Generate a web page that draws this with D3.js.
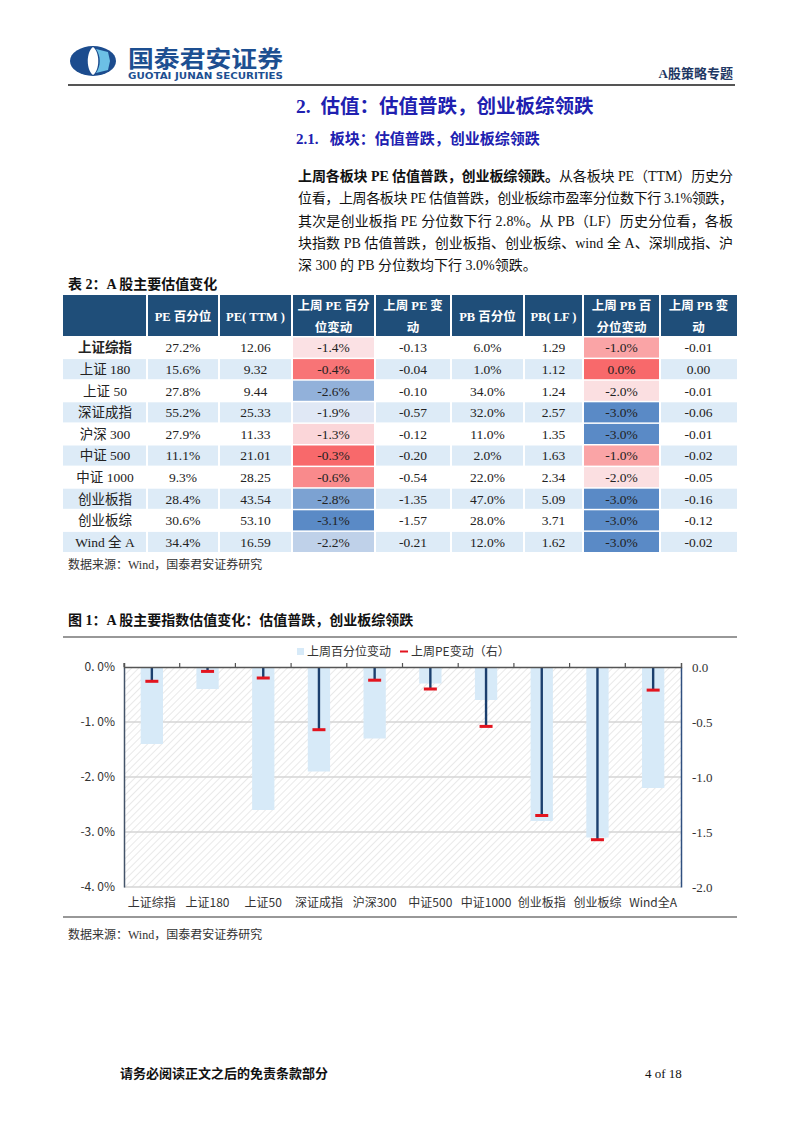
<!DOCTYPE html>
<html><head><meta charset="utf-8">
<script src="https://cdn.jsdelivr.net/npm/d3@7"></script>
<style>
body{margin:0;background:#fff;}
svg{display:block;}
text{white-space:pre;}
</style></head>
<body><svg id="page" width="802" height="1133"></svg>
<script>
// ---------------- DATA ----------------
const categories = ["上证综指","上证180","上证50","深证成指","沪深300","中证500","中证1000","创业板指","创业板综","Wind全A"];
const rowLabels = ["上证综指","上证 180","上证 50","深证成指","沪深 300","中证 500","中证 1000","创业板指","创业板综","Wind 全 A"];
const pePct    = [27.2,15.6,27.8,55.2,27.9,11.1,9.3,28.4,30.6,34.4];
const peTTM    = [12.06,9.32,9.44,25.33,11.33,21.01,28.25,43.54,53.10,16.59];
const pePctChg = [-1.4,-0.4,-2.6,-1.9,-1.3,-0.3,-0.6,-2.8,-3.1,-2.2];
const peChg    = [-0.13,-0.04,-0.10,-0.57,-0.12,-0.20,-0.54,-1.35,-1.57,-0.21];
const pbPct    = [6.0,1.0,34.0,32.0,11.0,2.0,22.0,47.0,28.0,12.0];
const pbLF     = [1.29,1.12,1.24,2.57,1.35,1.63,2.34,5.09,3.71,1.62];
const pbPctChg = [-1.0,0.0,-2.0,-3.0,-3.0,-1.0,-2.0,-3.0,-3.0,-3.0];
const pbChg    = [-0.01,0.00,-0.01,-0.06,-0.01,-0.02,-0.05,-0.16,-0.12,-0.02];
const tableHeaders = [[""],["PE 百分位"],["PE( TTM )"],["上周 PE 百分","位变动"],["上周 PE 变","动"],["PB 百分位"],["PB( LF )"],["上周 PB 百","分位变动"],["上周 PB 变","动"]];
const leftTicks = [0,-1,-2,-3,-4];
const leftTickLabels = ["0. 0%","-1. 0%","-2. 0%","-3. 0%","-4. 0%"];
const rightTicks = [0,-0.5,-1.0,-1.5,-2.0];
const rightTickLabels = ["0.0","-0.5","-1.0","-1.5","-2.0"];
const legendLabels = ["上周百分位变动","上周PE变动（右）"];

// ---------------- PAGE ----------------
const svg = d3.select("#page");
const SERIF = "'Liberation Serif','Times New Roman','Noto Sans CJK SC',serif";
const SANS = "'Noto Sans CJK SC','Noto Sans',sans-serif";
const loc = d3.formatLocale({decimal:".",thousands:",",grouping:[3],currency:["",""],minus:"-"});

// logo
const logo = svg.append("g");
logo.append("ellipse").attr("cx",93).attr("cy",61).attr("rx",23).attr("ry",15).attr("fill","#1c4c8e");
logo.append("path").attr("d","M93,47 C86,52 86,70 93,75 C100,70 100,52 93,47 Z").attr("fill","#fff");
logo.append("path").attr("d","M96,49 L108,52 L110,61 L108,70 L96,73 C101,66 101,56 96,49 Z").attr("fill","#6cc0e5");
svg.append("text").attr("x",128).attr("y",67).attr("font-family",SANS).attr("font-weight","bold")
  .attr("font-size",23).attr("fill","#1d4f91").attr("textLength",155).attr("lengthAdjust","spacingAndGlyphs").text("国泰君安证券");
svg.append("text").attr("x",128).attr("y",79).attr("font-family","'DejaVu Sans',sans-serif").attr("font-weight","bold")
  .attr("font-size",8).attr("fill","#1d4f91").attr("textLength",155).attr("lengthAdjust","spacingAndGlyphs").text("GUOTAI JUNAN SECURITIES");
svg.append("line").attr("x1",68).attr("x2",735).attr("y1",85).attr("y2",85).attr("stroke","#555").attr("stroke-width",2);
svg.append("text").attr("x",733).attr("y",78).attr("text-anchor","end").attr("font-family",SERIF).attr("font-weight","bold")
  .attr("font-size",13).attr("fill","#1f3864").text("A股策略专题");

// titles
svg.append("text").attr("x",296).attr("y",113).attr("font-family",SERIF).attr("font-weight","bold")
  .attr("font-size",19.5).attr("fill","#2020b0").text("2.\u00a0\u00a0估值：估值普跌，创业板综领跌");
svg.append("text").attr("x",296).attr("y",144).attr("font-family",SERIF).attr("font-weight","bold")
  .attr("font-size",15).attr("fill","#2020b0").text("2.1.\u00a0\u00a0\u00a0板块：估值普跌，创业板综领跌");

// paragraph
const para = [
  [["上周各板块 PE 估值普跌，创业板综领跌。", true],["从各板块 PE（TTM）历史分", false]],
  [["位看，上周各板块 PE 估值普跌，创业板综市盈率分位数下行 3.1%领跌，", false]],
  [["其次是创业板指 PE 分位数下行 2.8%。从 PB（LF）历史分位看，各板", false]],
  [["块指数 PB 估值普跌，创业板指、创业板综、wind 全 A、深圳成指、沪", false]],
  [["深 300 的 PB 分位数均下行 3.0%领跌。", false]]
];
para.forEach((ln,i)=>{
  const t = svg.append("text").attr("x",298).attr("y",181+i*22.3).attr("font-family",SERIF)
    .attr("font-size",14).attr("fill","#111");
  if(i<4) t.attr("textLength",435).attr("lengthAdjust","spacing");
  ln.forEach(([s,b])=>t.append("tspan").attr("font-weight",b?"bold":"normal").text(s));
});

// table title
svg.append("text").attr("x",68).attr("y",289).attr("font-family",SERIF).attr("font-weight","bold")
  .attr("font-size",14).attr("fill","#111").text("表 2：A 股主要估值变化");

// ---------------- TABLE ----------------
const colX = [63,147,219,292,375,451,524,583,660,737];
const headTop = 295, headBot = 337, rowH = 21.6;
const heatPE = d3.scaleLinear().domain([d3.min(pePctChg), d3.median(pePctChg), d3.max(pePctChg)]).range(["#5A8AC6","#FCFCFF","#F8696B"]);
const heatPB = d3.scaleLinear().domain([d3.min(pbPctChg), d3.median(pbPctChg), d3.max(pbPctChg)]).range(["#5A8AC6","#FCFCFF","#F8696B"]);
const tg = svg.append("g");
tableHeaders.forEach((h,c)=>{
  tg.append("rect").attr("x",colX[c]+(c?1:0)).attr("y",headTop).attr("width",colX[c+1]-colX[c]-(c?1:0)-(c<8?1:0)).attr("height",headBot-headTop-1).attr("fill","#1f4e79");
  const cx=(colX[c]+colX[c+1])/2;
  h.forEach((s,k)=>{
    const y = h.length===1 ? 321 : 310 + k*22;
    tg.append("text").attr("x",cx).attr("y",y).attr("text-anchor","middle").attr("font-family",SERIF)
      .attr("font-weight","bold").attr("font-size",12.5).attr("fill","#fff").text(s);
  });
});
const fmt1 = loc.format(".1f"), fmt2 = loc.format(".2f");
const rows = categories.map((c,i)=>[
  rowLabels[i], fmt1(pePct[i])+"%", fmt2(peTTM[i]), fmt1(pePctChg[i])+"%", fmt2(peChg[i]),
  fmt1(pbPct[i])+"%", fmt2(pbLF[i]), fmt1(pbPctChg[i])+"%", fmt2(pbChg[i])]);
rows.forEach((r,i)=>{
  const y0 = headBot + i*rowH;
  const stripe = i%2===1 ? "#ddebf7" : "#ffffff";
  r.forEach((s,c)=>{
    let fill = stripe;
    if(c===3) fill = heatPE(pePctChg[i]);
    if(c===7) fill = heatPB(pbPctChg[i]);
    tg.append("rect").attr("x",colX[c]+(c?1:0)).attr("y",y0+0.5).attr("width",colX[c+1]-colX[c]-(c?1:0)-(c<8?1:0)).attr("height",rowH-1.5).attr("fill",fill);
    tg.append("text").attr("x",(colX[c]+colX[c+1])/2).attr("y",y0+rowH/2+4.5).attr("text-anchor","middle")
      .attr("font-family",SERIF).attr("font-size",13.5).attr("font-weight",(c===0&&i===0)?"bold":"normal")
      .attr("fill","#222").text(s);
  });
});
svg.append("text").attr("x",68).attr("y",569).attr("font-family",SERIF).attr("font-size",12).attr("fill","#333").text("数据来源：Wind，国泰君安证券研究");

// ---------------- FIGURE ----------------
svg.append("text").attr("x",68).attr("y",625).attr("font-family",SERIF).attr("font-weight","bold")
  .attr("font-size",14).attr("fill","#111").text("图 1：A 股主要指数估值变化：估值普跌，创业板综领跌");
svg.append("line").attr("x1",63).attr("x2",737).attr("y1",637).attr("y2",637).attr("stroke","#333").attr("stroke-width",1.2);
svg.append("line").attr("x1",63).attr("x2",737).attr("y1",917).attr("y2",917).attr("stroke","#333").attr("stroke-width",1.2);
svg.append("text").attr("x",68).attr("y",939).attr("font-family",SERIF).attr("font-size",12).attr("fill","#333").text("数据来源：Wind，国泰君安证券研究");

const L = 124, R = 681, T = 667, B = 887;
const x = d3.scaleBand().domain(categories).range([L,R]).padding(0);
const yL = d3.scaleLinear().domain([0,-4]).range([T,B]);
const yR = d3.scaleLinear().domain([0,-2]).range([T,B]);

const defs = svg.append("defs");
const pat = defs.append("pattern").attr("id","hatch").attr("patternUnits","userSpaceOnUse").attr("width",5).attr("height",5)
  .attr("patternTransform","rotate(45)");
pat.append("line").attr("x1",0).attr("y1",0).attr("x2",0).attr("y2",5).attr("stroke","#e2e2e2").attr("stroke-width",1.5);
svg.append("rect").attr("x",L).attr("y",T).attr("width",R-L).attr("height",B-T).attr("fill","url(#hatch)");

// gridlines
svg.append("g").selectAll("line").data(leftTicks.slice(1)).join("line")
  .attr("x1",L).attr("x2",R).attr("y1",d=>yL(d)).attr("y2",d=>yL(d)).attr("stroke","#d4d4d4").attr("stroke-width",1.3);

// bars
svg.append("g").selectAll("rect").data(categories).join("rect")
  .attr("x",(d)=>x(d)+x.bandwidth()*0.3).attr("width",x.bandwidth()*0.4)
  .attr("y",yL(0)).attr("height",(d,i)=>yL(pePctChg[i])-yL(0)).attr("fill","#d7eaf8");

// stems + caps
const sg = svg.append("g");
sg.selectAll("line").data(categories).join("line")
  .attr("x1",d=>x(d)+x.bandwidth()/2).attr("x2",d=>x(d)+x.bandwidth()/2)
  .attr("y1",yR(0)).attr("y2",(d,i)=>yR(peChg[i])).attr("stroke","#1b3f6e").attr("stroke-width",2.4);
sg.selectAll("rect").data(categories).join("rect")
  .attr("x",d=>x(d)+x.bandwidth()/2-6.5).attr("width",13)
  .attr("y",(d,i)=>yR(peChg[i])-1.5).attr("height",3).attr("fill","#e3141f");

// axes
const axL = d3.axisLeft(yL).tickValues(leftTicks).tickFormat((d,i)=>leftTickLabels[i]).tickSize(0).tickPadding(9);
const gL = svg.append("g").attr("transform",`translate(${L},0)`).call(axL);
gL.select(".domain").attr("stroke","#44546a").attr("stroke-width",1.5);
gL.selectAll("text").attr("font-family",SANS).attr("font-size",12).attr("fill","#333");
const axR = d3.axisRight(yR).tickValues(rightTicks).tickFormat((d,i)=>rightTickLabels[i]).tickSize(0).tickPadding(11);
const gR = svg.append("g").attr("transform",`translate(${R},0)`).call(axR);
gR.select(".domain").attr("stroke","#2f4f7f").attr("stroke-width",1.5);
gR.selectAll("text").attr("font-family",SERIF).attr("font-size",13).attr("fill","#333");
// top category axis at zero
const axX = d3.axisTop(x).tickSize(4).tickFormat("");
const gX = svg.append("g").attr("transform",`translate(0,${T})`).call(axX);
gX.select(".domain").attr("stroke","#555").attr("stroke-width",1.5);
gX.selectAll(".tick").attr("transform",d=>`translate(${x(d)},0)`);
gX.selectAll(".tick line").attr("stroke","#555").attr("stroke-width",1.2);
// category labels
svg.append("g").selectAll("text").data(categories).join("text")
  .attr("x",d=>x(d)+x.bandwidth()/2).attr("y",907).attr("text-anchor","middle")
  .attr("font-family",SANS).attr("font-size",12).attr("fill","#333").text(d=>d);

// legend
const lg = svg.append("g");
lg.append("rect").attr("x",297).attr("y",648).attr("width",7).attr("height",7).attr("fill","#d7eaf8");
lg.append("text").attr("x",307).attr("y",656).attr("font-family",SANS).attr("font-size",12).attr("fill","#333").text(legendLabels[0]);
lg.append("rect").attr("x",400).attr("y",650.5).attr("width",8).attr("height",2).attr("fill","#e3141f");
lg.append("text").attr("x",411).attr("y",656).attr("font-family",SANS).attr("font-size",12).attr("fill","#333").text(legendLabels[1]);

// footer
svg.append("text").attr("x",120).attr("y",1078).attr("font-family",SERIF).attr("font-weight","bold")
  .attr("font-size",13).attr("fill","#111").text("请务必阅读正文之后的免责条款部分");
svg.append("text").attr("x",645).attr("y",1078).attr("font-family",SERIF).attr("font-size",13).attr("fill","#111").text("4 of 18");
</script></body></html>
